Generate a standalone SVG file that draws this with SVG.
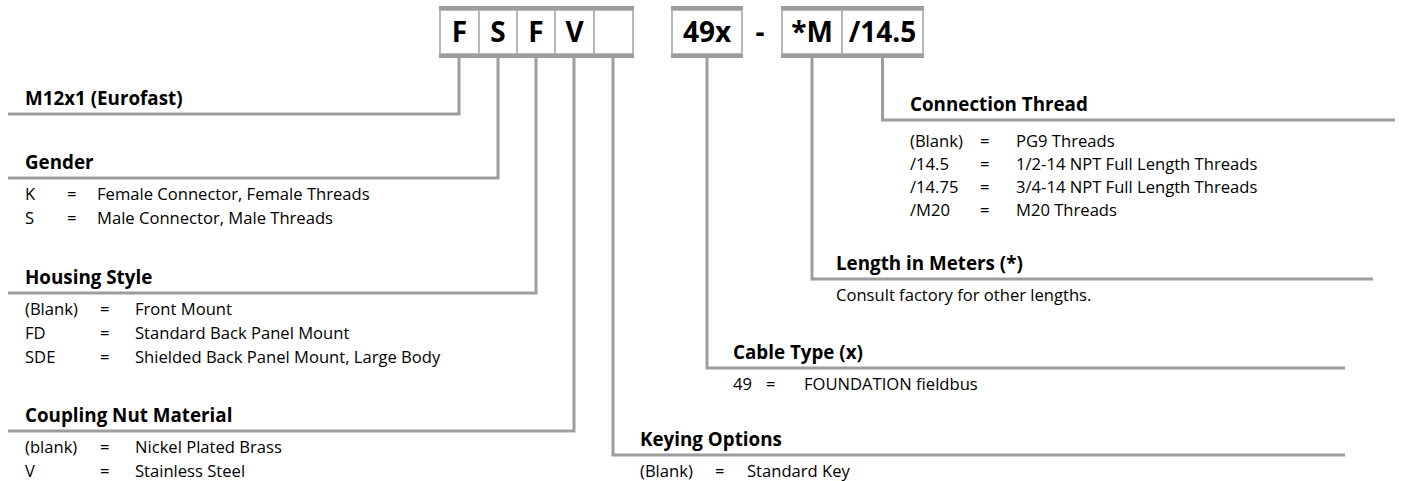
<svg xmlns="http://www.w3.org/2000/svg" width="1403" height="481" viewBox="0 0 1403 481">
<style>
.bg{fill:#ffffff}
.bar{fill:#9d9d9d}
.box{fill:#ffffff;stroke:#b8b8b8;stroke-width:2}
.code{font-family:"Open Sans","Liberation Sans",sans-serif;font-weight:700;font-size:28px;fill:#000;text-anchor:middle}
.ttl{font-family:"Open Sans","Liberation Sans",sans-serif;font-weight:700;font-size:18.8px;fill:#000}
.txt{font-family:"Open Sans","Liberation Sans",sans-serif;font-size:16.6px;fill:#000}
.con{fill:none;stroke:#9d9d9d;stroke-width:3}
</style>
<rect class="bg" x="0" y="0" width="1403" height="481"/>

<g id="connectors">
<path class="con" d="M459 56 V114 H8"/>
<path class="con" d="M498 56 V178 H8"/>
<path class="con" d="M536 56 V293 H8"/>
<path class="con" d="M574 56 V431 H8"/>
<path class="con" d="M613 56 V455 H1345"/>
<path class="con" d="M707 56 V368 H1345"/>
<path class="con" d="M812 56 V279 H1373"/>
<path class="con" d="M882.5 56 V120 H1395"/>
</g>

<g id="partnumber">
<rect class="box" x="440" y="10" width="39" height="44"/>
<rect class="box" x="479" y="10" width="38" height="44"/>
<rect class="box" x="517" y="10" width="38" height="44"/>
<rect class="box" x="555" y="10" width="39" height="44"/>
<rect class="box" x="594" y="10" width="39" height="44"/>
<rect class="bar" x="439" y="6" width="195" height="4"/>
<rect class="bar" x="439" y="54" width="195" height="4"/>
<text class="code" x="459.5" y="42">F</text>
<text class="code" x="498" y="42">S</text>
<text class="code" x="536" y="42">F</text>
<text class="code" x="574.5" y="42">V</text>

<rect class="box" x="672" y="10" width="70" height="44"/>
<rect class="bar" x="671" y="6" width="72" height="4"/>
<rect class="bar" x="671" y="54" width="72" height="4"/>
<text class="code" x="707" y="42">49x</text>

<text class="code" x="760" y="42">-</text>

<rect class="box" x="782" y="10" width="60" height="44"/>
<rect class="box" x="842" y="10" width="81" height="44"/>
<rect class="bar" x="781" y="6" width="143" height="4"/>
<rect class="bar" x="781" y="54" width="143" height="4"/>
<text class="code" x="812" y="42">*M</text>
<text class="code" x="882.5" y="42">/14.5</text>
</g>

<g id="series">
<text class="ttl" x="25" y="105">M12x1 (Eurofast)</text>
</g>

<g id="gender">
<text class="ttl" x="25" y="169">Gender</text>
<text class="txt" x="25" y="200">K</text><text class="txt" x="67" y="200">=</text><text class="txt" x="97" y="200">Female Connector, Female Threads</text>
<text class="txt" x="25" y="224">S</text><text class="txt" x="67" y="224">=</text><text class="txt" x="97" y="224">Male Connector, Male Threads</text>
</g>

<g id="housing">
<text class="ttl" x="25" y="284">Housing Style</text>
<text class="txt" x="25" y="315">(Blank)</text><text class="txt" x="100" y="315">=</text><text class="txt" x="135" y="315">Front Mount</text>
<text class="txt" x="25" y="339">FD</text><text class="txt" x="100" y="339">=</text><text class="txt" x="135" y="339">Standard Back Panel Mount</text>
<text class="txt" x="25" y="363">SDE</text><text class="txt" x="100" y="363">=</text><text class="txt" x="135" y="363">Shielded Back Panel Mount, Large Body</text>
</g>

<g id="coupling">
<text class="ttl" x="25" y="422">Coupling Nut Material</text>
<text class="txt" x="25" y="453">(blank)</text><text class="txt" x="100" y="453">=</text><text class="txt" x="135" y="453">Nickel Plated Brass</text>
<text class="txt" x="25" y="477">V</text><text class="txt" x="100" y="477">=</text><text class="txt" x="135" y="477">Stainless Steel</text>
</g>

<g id="connection">
<text class="ttl" x="910" y="111">Connection Thread</text>
<text class="txt" x="910" y="147">(Blank)</text><text class="txt" x="980" y="147">=</text><text class="txt" x="1016" y="147">PG9 Threads</text>
<text class="txt" x="910" y="170">/14.5</text><text class="txt" x="980" y="170">=</text><text class="txt" x="1016" y="170">1/2-14 NPT Full Length Threads</text>
<text class="txt" x="910" y="193">/14.75</text><text class="txt" x="980" y="193">=</text><text class="txt" x="1016" y="193">3/4-14 NPT Full Length Threads</text>
<text class="txt" x="910" y="216">/M20</text><text class="txt" x="980" y="216">=</text><text class="txt" x="1016" y="216">M20 Threads</text>
</g>

<g id="length">
<text class="ttl" x="836" y="270">Length in Meters (*)</text>
<text class="txt" x="836" y="301">Consult factory for other lengths.</text>
</g>

<g id="cable">
<text class="ttl" x="733" y="359">Cable Type (x)</text>
<text class="txt" x="733" y="390">49</text><text class="txt" x="766" y="390">=</text><text class="txt" x="804" y="390">FOUNDATION fieldbus</text>
</g>

<g id="keying">
<text class="ttl" x="640" y="446">Keying Options</text>
<text class="txt" x="640" y="477">(Blank)</text><text class="txt" x="715" y="477">=</text><text class="txt" x="747" y="477">Standard Key</text>
</g>
</svg>
